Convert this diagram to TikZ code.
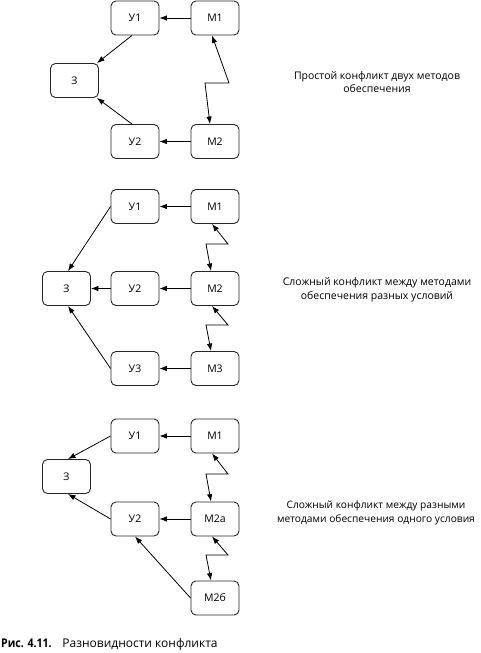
\documentclass[tikz,border=0pt]{standalone}
\usepackage{fontspec}
\usepackage{graphicx}
\setmainfont{Open Sans}
\usetikzlibrary{arrows.meta}
\begin{document}
\begin{tikzpicture}[x=1pt,y=-1pt,
  box/.style={draw=black!85, line width=0.9pt, rounded corners=5pt, minimum width=48pt, minimum height=34pt, inner sep=0pt, font=\fontsize{10.5}{12}\selectfont},
  arr/.style={-{Latex[length=7.5pt,width=5.5pt]}, line width=0.8pt},
  dbl/.style={{Latex[length=7.5pt,width=5.5pt]}-{Latex[length=7.5pt,width=5.5pt]}, line width=0.8pt},
  lbl/.style={align=center, inner sep=0pt, font=\fontsize{10.5}{13.5}\selectfont}]
\useasboundingbox (0,0) rectangle (480,653);
% ---------- diagram 1
\node[box] (a-u1) at (135,18) {У1};
\node[box] (a-m1) at (215,18) {М1};
\node[box] (a-z) at (74.5,80.5) {З};
\node[box] (a-u2) at (135,141.5) {У2};
\node[box] (a-m2) at (215,141.5) {М2};
\draw[arr] (a-m1) -- (a-u1);
\draw[arr] (a-m2) -- (a-u2);
\draw[arr] ([xshift=-3pt]a-u1.south) -- ([xshift=-2pt]a-z.north east);
\draw[arr] ([xshift=-3pt]a-u2.north) -- ([xshift=-2pt]a-z.south east);
\coordinate (a-k1) at (229,83);
\coordinate (a-k2) at (205,83);
\draw[dbl] ([xshift=-3pt]a-m1.south) -- (a-k1) -- (a-k2) -- ([xshift=-5pt]a-m2.north);
\node[lbl] (a-t) at (377,82) {Простой конфликт двух методов\\обеспечения};
% ---------- diagram 2
\node[box] (b-u1) at (135,206.5) {У1};
\node[box] (b-m1) at (215,206.5) {М1};
\node[box] (b-z) at (66.5,288.5) {З};
\node[box] (b-u2) at (135,288.5) {У2};
\node[box] (b-m2) at (215,288.5) {М2};
\node[box] (b-u3) at (135,368.5) {У3};
\node[box] (b-m3) at (215,368.5) {М3};
\draw[arr] (b-m1) -- (b-u1);
\draw[arr] (b-m2) -- (b-u2);
\draw[arr] (b-m3) -- (b-u3);
\draw[arr] (b-u2) -- (b-z);
\draw[arr] (b-u1.west) -- ([xshift=1.5pt]b-z.north);
\draw[arr] (b-u3.west) -- ([xshift=1.5pt]b-z.south);
\coordinate (b-k1) at (228,244);
\coordinate (b-k2) at (206,244);
\coordinate (b-k3) at (228,325);
\coordinate (b-k4) at (206,325);
\draw[dbl] ([xshift=-3pt]b-m1.south) -- (b-k1) -- (b-k2) -- ([xshift=-4pt]b-m2.north);
\draw[dbl] ([xshift=-3pt]b-m2.south) -- (b-k3) -- (b-k4) -- ([xshift=-4pt]b-m3.north);
\node[lbl] (b-t) at (377,290) {Сложный конфликт между методами\\обеспечения разных условий};
% ---------- diagram 3
\node[box] (c-u1) at (135,436) {У1};
\node[box] (c-m1) at (215,436) {М1};
\node[box] (c-z) at (66.5,476.5) {З};
\node[box] (c-u2) at (135,519) {У2};
\node[box] (c-m2a) at (215,519) {М2а};
\node[box] (c-m2b) at (215,598) {М2б};
\draw[arr] (c-m1) -- (c-u1);
\draw[arr] (c-m2a) -- (c-u2);
\draw[arr] (c-u1.west) -- ([xshift=1.5pt]c-z.north);
\draw[arr] (c-u2.west) -- ([xshift=1.5pt]c-z.south);
\draw[arr] (c-m2b.west) -- (c-u2.south);
\coordinate (c-k1) at (228,474);
\coordinate (c-k2) at (206,474);
\coordinate (c-k3) at (228,555);
\coordinate (c-k4) at (206,555);
\draw[dbl] ([xshift=-3pt]c-m1.south) -- (c-k1) -- (c-k2) -- ([xshift=-4pt]c-m2a.north);
\draw[dbl] ([xshift=-3pt]c-m2a.south) -- (c-k3) -- (c-k4) -- ([xshift=-4pt]c-m2b.north);
\node[lbl, font=\fontsize{10.2}{13.5}\selectfont] (c-t) at (376,513) {Сложный конфликт между разными\\методами обеспечения одного условия};
% ---------- caption
\node[anchor=base west, inner sep=0pt, font=\fontsize{12}{14}\selectfont] (cap) at (1,647) {\scalebox{0.88}[1]{\textbf{Рис. 4.11.}}\hspace{0.9em}Разновидности конфликта};
\end{tikzpicture}
\end{document}
